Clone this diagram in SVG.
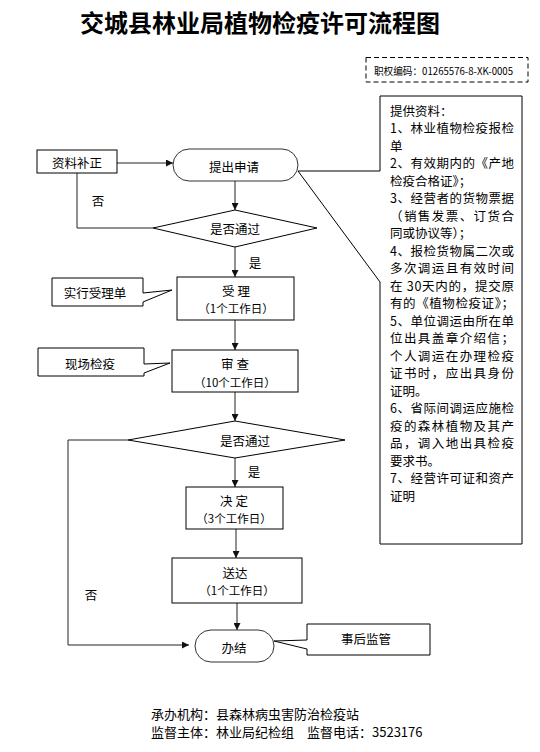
<svg xmlns="http://www.w3.org/2000/svg" width="540" height="752" viewBox="0 0 540 752">
<style>
text{font-family:"Noto Sans CJK SC","Liberation Sans",sans-serif;fill:#000;}
.t{font-size:12.5px;text-anchor:middle;dominant-baseline:central;}
.s{font-size:11.5px;text-anchor:middle;dominant-baseline:central;}
.b{font-size:12.5px;dominant-baseline:central;}
.f{font-size:13px;dominant-baseline:central;}
.shape{fill:#fff;stroke:#000;stroke-width:1;}
.rnd{fill:#fff;stroke:#333;stroke-width:1;}
.ln{fill:none;stroke:#222;stroke-width:1;}
</style>
<defs>
<marker id="ah" viewBox="0 0 8 8" refX="8" refY="4" markerWidth="7" markerHeight="7" markerUnits="userSpaceOnUse" orient="auto">
<path d="M0,0 L8,4 L0,8 Z" fill="#111"/>
</marker>
</defs>
<rect width="540" height="752" fill="#fff"/>

<g id="title">
<text x="260" y="21" style="font-size:24px;font-weight:bold;text-anchor:middle;dominant-baseline:central;">交城县林业局植物检疫许可流程图</text>
</g>

<g id="code">
<rect x="366" y="57.5" width="162" height="24.5" fill="none" stroke="#000" stroke-width="1" stroke-dasharray="5,3"/>
<text x="374" y="70" style="font-size:10px;dominant-baseline:central;" textLength="139" lengthAdjust="spacingAndGlyphs">职权编码：01265576-8-XK-0005</text>
</g>

<g id="connectors">
<line class="ln" x1="117" y1="163" x2="173" y2="163" marker-end="url(#ah)"/>
<line class="ln" x1="235" y1="181" x2="235" y2="210" marker-end="url(#ah)"/>
<polyline class="ln" points="153,228 77,228 77,173"/>
<line class="ln" x1="235" y1="247" x2="235" y2="277" marker-end="url(#ah)"/>
<line class="ln" x1="235" y1="320" x2="235" y2="350" marker-end="url(#ah)"/>
<line class="ln" x1="235" y1="392" x2="235" y2="421" marker-end="url(#ah)"/>
<line class="ln" x1="235" y1="458" x2="235" y2="487" marker-end="url(#ah)"/>
<line class="ln" x1="236" y1="529" x2="236" y2="558" marker-end="url(#ah)"/>
<line class="ln" x1="237" y1="603" x2="237" y2="630" marker-end="url(#ah)"/>
<polyline class="ln" points="128,440 68,440 68,645 189,645" marker-end="url(#ah)"/>
<text class="t" x="98" y="200">否</text>
<text class="t" x="255" y="262">是</text>
<text class="t" x="254" y="471">是</text>
<text class="t" x="91" y="594">否</text>
</g>

<g id="n-buzheng">
<rect class="shape" x="37" y="150" width="80" height="23"/>
<text class="t" x="77" y="162">资料补正</text>
</g>

<g id="n-shenqing">
<rect class="rnd" x="173" y="149" width="125" height="32" rx="16" ry="16"/>
<text class="t" x="234" y="166">提出申请</text>
</g>

<g id="n-ziliao">
<path class="shape" d="M380,96 H522 V544 H380 V282 L298,171 H380 Z"/>
<text class="b" x="390" y="110">提供资料：</text>
<text class="b" x="390" y="127.5" textLength="124" lengthAdjust="spacing">1、林业植物检疫报检</text>
<text class="b" x="390" y="145">单</text>
<text class="b" x="390" y="162.5" textLength="124" lengthAdjust="spacing">2、有效期内的《产地</text>
<text class="b" x="390" y="180">检疫合格证》；</text>
<text class="b" x="390" y="197.5" textLength="124" lengthAdjust="spacing">3、经营者的货物票据</text>
<text class="b" x="390" y="215" textLength="124" lengthAdjust="spacing">（销售发票、订货合</text>
<text class="b" x="390" y="232.5">同或协议等）；</text>
<text class="b" x="390" y="250" textLength="124" lengthAdjust="spacing">4、报检货物属二次或</text>
<text class="b" x="390" y="267.5" textLength="124" lengthAdjust="spacing">多次调运且有效时间</text>
<text class="b" x="390" y="285" textLength="124" lengthAdjust="spacing">在 30天内的，提交原</text>
<text class="b" x="390" y="302.5" textLength="124" lengthAdjust="spacing">有的《植物检疫证》；</text>
<text class="b" x="390" y="320" textLength="124" lengthAdjust="spacing">5、单位调运由所在单</text>
<text class="b" x="390" y="337.5" textLength="124" lengthAdjust="spacing">位出具盖章介绍信；</text>
<text class="b" x="390" y="355" textLength="124" lengthAdjust="spacing">个人调运在办理检疫</text>
<text class="b" x="390" y="372.5" textLength="124" lengthAdjust="spacing">证书时，应出具身份</text>
<text class="b" x="390" y="390">证明。</text>
<text class="b" x="390" y="407.5" textLength="124" lengthAdjust="spacing">6、省际间调运应施检</text>
<text class="b" x="390" y="425" textLength="124" lengthAdjust="spacing">疫的森林植物及其产</text>
<text class="b" x="390" y="442.5" textLength="124" lengthAdjust="spacing">品，调入地出具检疫</text>
<text class="b" x="390" y="460">要求书。</text>
<text class="b" x="390" y="477.5" textLength="124" lengthAdjust="spacing">7、经营许可证和资产</text>
<text class="b" x="390" y="495">证明</text>
</g>

<g id="n-pass1">
<polygon class="shape" points="153,228 235,210 317,228 235,247"/>
<text class="t" x="235" y="228">是否通过</text>
</g>

<g id="n-shouli">
<rect class="shape" x="177" y="277" width="117" height="43"/>
<text class="t" x="236" y="290">受 理</text>
<text class="s" x="236" y="308">（1个工作日）</text>
</g>

<g id="n-shoulidan">
<path class="shape" d="M52,278 H143 V293 L172,290 L143,302 V306 H52 Z"/>
<text class="t" x="95" y="292">实行受理单</text>
</g>

<g id="n-shencha">
<rect class="shape" x="172" y="350" width="126" height="42"/>
<text class="t" x="235" y="363">审 查</text>
<text class="s" x="235" y="382">（10个工作日）</text>
</g>

<g id="n-xianchang">
<path class="shape" d="M38,348 H144 V364 L170,363 L144,373 V376 H38 Z"/>
<text class="t" x="90" y="363">现场检疫</text>
</g>

<g id="n-pass2">
<polygon class="shape" points="128,440 235,421 345,440 235,458"/>
<text class="t" x="245" y="440">是否通过</text>
</g>

<g id="n-jueding">
<rect class="shape" x="186" y="487" width="97" height="42"/>
<text class="t" x="234" y="500">决 定</text>
<text class="s" x="234" y="518">（3个工作日）</text>
</g>

<g id="n-songda">
<rect class="shape" x="172" y="558" width="130" height="45"/>
<text class="t" x="235" y="572">送达</text>
<text class="s" x="237" y="590">（1个工作日）</text>
</g>

<g id="n-banjie">
<rect class="rnd" x="195" y="630" width="79" height="32" rx="16" ry="16"/>
<text class="t" x="234" y="647">办结</text>
</g>

<g id="n-jianguan">
<path class="shape" d="M307,624 H430 V655 H307 V649 L274,641 L307,640 Z"/>
<text class="t" x="366" y="638">事后监管</text>
</g>

<g id="footer">
<text class="f" x="151" y="713">承办机构：县森林病虫害防治检疫站</text>
<text class="f" x="151" y="731">监督主体：林业局纪检组　监督电话：3523176</text>
</g>
</svg>
